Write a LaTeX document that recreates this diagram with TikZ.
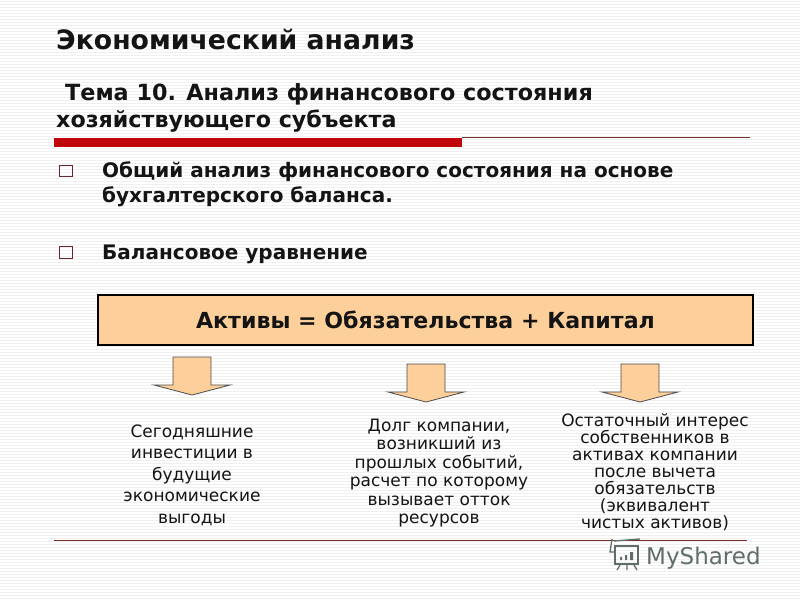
\documentclass[tikz,border=0pt]{standalone}
\usepackage{fontspec}
\setmainfont{DejaVu Sans}
\definecolor{peach}{RGB}{253,207,154}
\definecolor{redbar}{RGB}{192,6,10}
\definecolor{ruleline}{RGB}{120,50,40}
\definecolor{bulletc}{RGB}{105,35,45}
\definecolor{stripe}{RGB}{240,240,240}
\definecolor{wm}{RGB}{95,110,105}
\tikzset{
  headt/.style={anchor=base west,inner sep=0pt,text=black!92},
  bodyt/.style={anchor=base west,inner sep=0pt,font=\bfseries\fontsize{20}{24}\selectfont,text=black!92},
  desc/.style={anchor=center,inner sep=0pt,align=center,text=black!92},
  bulletbox/.style={draw=bulletc,line width=1.4pt,minimum width=13pt,minimum height=11.5pt,inner sep=0pt},
  eqbox/.style={draw=black,line width=2pt,fill=peach,inner sep=0pt,minimum width=655pt,minimum height=50pt,font=\bfseries\fontsize{22.1}{26}\selectfont,text=black!92},
  downarrow/.style={draw=black!70,line width=0.8pt,fill=peach},
  rulethin/.style={draw=ruleline,line width=0.6pt},
}
\begin{document}
\begin{tikzpicture}[x=1pt,y=-1pt]
\useasboundingbox (0,0) rectangle (800,600);
\fill[white] (0,0) rectangle (800,600);
\foreach \yy in {1,4,...,598} \draw[stripe,line width=0.8pt] (0,\yy) -- (800,\yy);
% titles
\node[headt,font=\bfseries\fontsize{26.7}{30}\selectfont] (title) at (56,49) {Экономический анализ};
\node[headt,font=\bfseries\fontsize{22.3}{26}\selectfont] (t1) at (65,100) {Тема 10. Анализ финансового состояния};
\node[headt,font=\bfseries\fontsize{22.2}{26}\selectfont] (t2) at (56,127) {хозяйствующего субъекта};
% rules
\draw[rulethin] (462,137.5) -- (750,137.5);
\fill[redbar] (54,138) rectangle (462,147);
% bullets
\node[bulletbox] (b1) at (66,171) {};
\node[bodyt] (l1) at (102,177) {Общий анализ финансового состояния на основе};
\node[bodyt] (l2) at (102,202) {бухгалтерского баланса.};
\node[bulletbox] (b2) at (66,252.5) {};
\node[bodyt] (l3) at (102,259) {Балансовое уравнение};
% equation
\node[eqbox] (eq) at (425.5,319.5) {Активы = Обязательства + Капитал};
% arrows
\draw[downarrow] (173,357) -- (211,357) -- (211,385) -- (230,385) -- (192,395) -- (154,385) -- (173,385) -- cycle;
\draw[downarrow] (407,364) -- (445,364) -- (445,392) -- (464,392) -- (426,402) -- (388,392) -- (407,392) -- cycle;
\draw[downarrow] (621,364) -- (659,364) -- (659,392) -- (678,392) -- (640,402) -- (602,392) -- (621,392) -- cycle;
% descriptions
\node[desc,font=\fontsize{17}{21.5}\selectfont] (d1) at (192,475) {Сегодняшние\\инвестиции в\\будущие\\экономические\\выгоды};
\node[desc,font=\fontsize{17}{18.4}\selectfont] (d2) at (439,473) {Долг компании,\\возникший из\\прошлых событий,\\расчет по которому\\вызывает отток\\ресурсов};
\node[desc,font=\fontsize{17}{17}\selectfont] (d3) at (655,472) {Остаточный интерес\\собственников в\\активах компании\\после вычета\\обязательств\\(эквивалент\\чистых активов)};
% bottom rule
\draw[rulethin] (54,540.5) -- (747,540.5);
% watermark
\begin{scope}[draw=wm,line width=1.3pt]
\draw (614,541) -- (640,539);
\draw (612,539) -- (610,552) -- (614,552);
\draw (615,546) rectangle (638,564);
\draw (620,565) -- (617,570) (627,565) -- (627,570) (634,565) -- (637,570);
\fill[wm] (620,557) rectangle (622,560) (625,555) rectangle (627,560) (630,552) rectangle (633,560);
\end{scope}
\node[anchor=base west,inner sep=0pt,text=wm,font=\fontsize{23}{26}\selectfont] (wmark) at (646,564) {MyShared};
\end{tikzpicture}
\end{document}
